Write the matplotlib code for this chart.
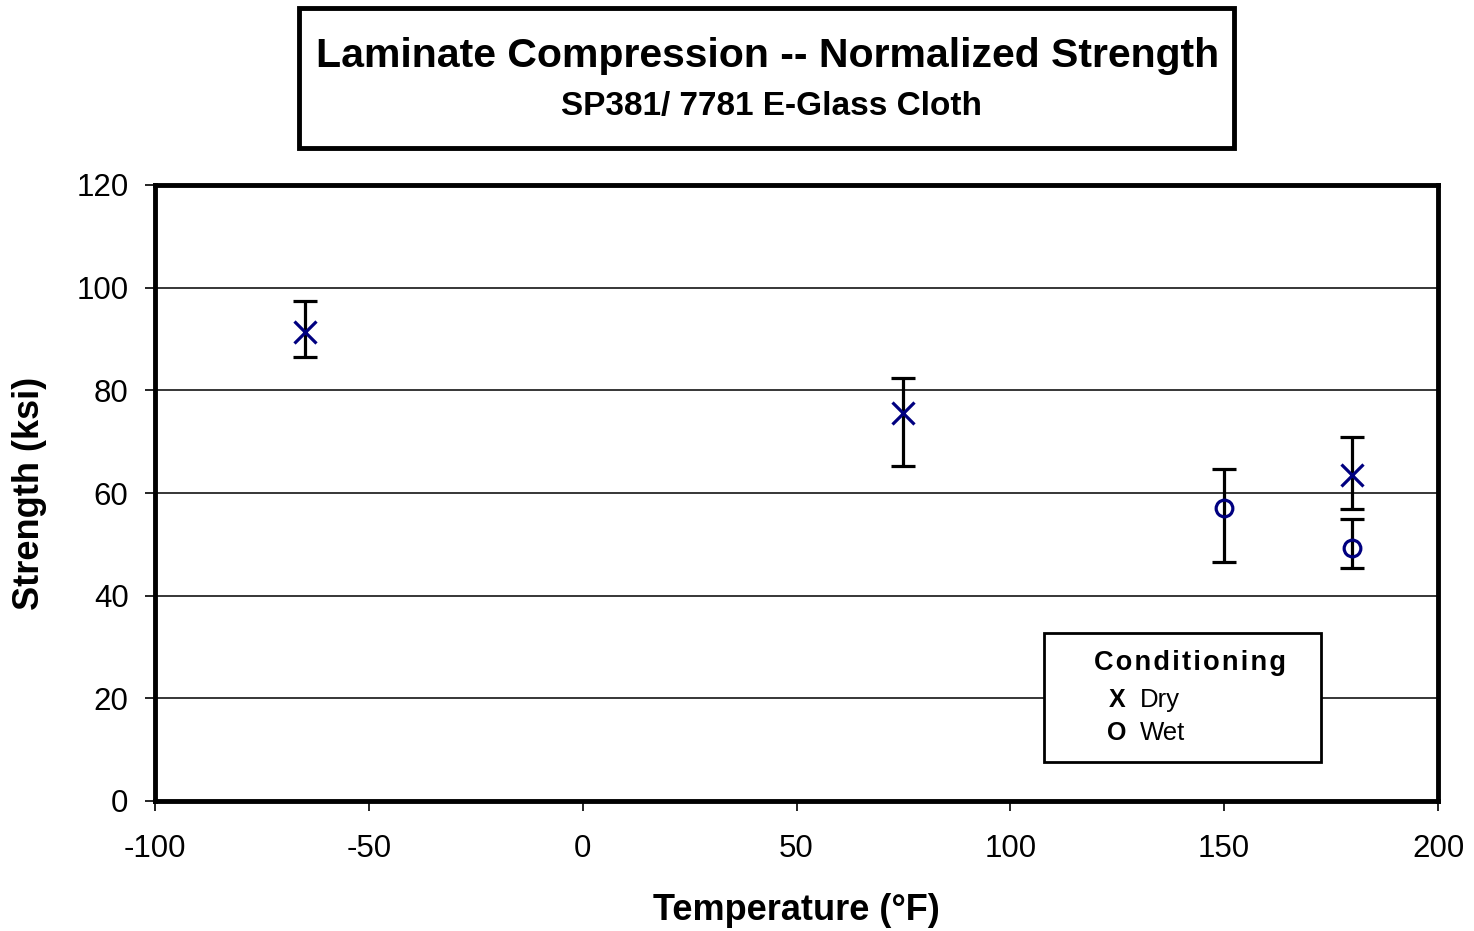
import matplotlib.pyplot as plt
from matplotlib.patches import Rectangle
import numpy as np

plt.rcParams['font.family'] = ['Liberation Sans', 'DejaVu Sans']
plt.rcParams['axes.unicode_minus'] = False

# data
dry_temp = [-65, 75, 180]
dry_str = [91.4, 75.6, 63.5]
dry_lo = [86.5, 65.3, 56.9]
dry_hi = [97.4, 82.4, 70.9]

wet_temp = [150, 180]
wet_str = [57.1, 49.3]
wet_lo = [46.6, 45.4]
wet_hi = [64.7, 54.9]

xticks = [-100, -50, 0, 50, 100, 150, 200]
yticks = [0, 20, 40, 60, 80, 100, 120]

fig = plt.figure(figsize=(14.74, 9.31), dpi=100)
ax = fig.add_axes([155/1474, 1-801/931, (1438-155)/1474, (801-185)/931])

ax.set_xlim(-100, 200)
ax.set_ylim(0, 120)
ax.set_xticks(xticks)
ax.set_yticks(yticks)
ax.yaxis.grid(True, color='black', linewidth=1.1)
ax.set_axisbelow(True)

def errs(v, lo, hi):
    v = np.array(v)
    return [v - np.array(lo), np.array(hi) - v]

ax.errorbar(dry_temp, dry_str, yerr=errs(dry_str, dry_lo, dry_hi), fmt='none',
            ecolor='black', elinewidth=2.3, capsize=8.5, capthick=2.3, zorder=3)
ax.errorbar(wet_temp, wet_str, yerr=errs(wet_str, wet_lo, wet_hi), fmt='none',
            ecolor='black', elinewidth=2.3, capsize=8.5, capthick=2.3, zorder=3)
ax.plot(dry_temp, dry_str, linestyle='none', marker='x', color='#000080',
        markersize=16, markeredgewidth=2.3, zorder=4)
ax.plot(wet_temp, wet_str, linestyle='none', marker='o', color='#000080',
        markerfacecolor='none', markersize=12, markeredgewidth=2.3, zorder=4)

for s in ax.spines.values():
    s.set_linewidth(3.5)
ax.tick_params(axis='both', labelsize=22.5, width=1.2, length=7, direction='out')
ax.tick_params(axis='y', pad=12)
ax.tick_params(axis='x', pad=17)

ax.set_xlabel('Temperature (°F)', fontsize=26, fontweight='bold')
ax.set_ylabel('Strength (ksi)', fontsize=26, fontweight='bold')
ax.xaxis.set_label_coords(0.5, (801-910)/616)
ax.yaxis.set_label_coords((30-155)/1283, 0.5)
ax.xaxis.label.set_va('center')
ax.yaxis.label.set_va('center')

# title box
fig.patches.append(Rectangle((299/1474, 1-148/931), (1234-299)/1474, (148-8)/931,
                             transform=fig.transFigure, facecolor='white',
                             edgecolor='black', linewidth=3.5))
fig.text(768/1474, 1-56/931, 'Laminate Compression -- Normalized Strength',
         ha='center', va='center', fontsize=29.5, fontweight='bold')
fig.text(772/1474, 1-106/931, 'SP381/ 7781 E-Glass Cloth',
         ha='center', va='center', fontsize=24, fontweight='bold')

# legend box
fig.patches.append(Rectangle((1044/1474, 1-762/931), (1321-1044)/1474, (762-633)/931,
                             transform=fig.transFigure, facecolor='white',
                             edgecolor='black', linewidth=2, zorder=5))
fig.text(1190/1474, 1-663/931, '\u200a'.join('Conditioning'), ha='center', va='center',
         fontsize=19.5, fontweight='bold', zorder=6)
fig.text(1117/1474, 1-700/931, 'X', ha='center', va='center',
         fontsize=18, fontweight='bold', zorder=6)
fig.text(1140/1474, 1-700/931, 'Dry', ha='left', va='center', fontsize=18.5, zorder=6)
fig.text(1117/1474, 1-733/931, 'O', ha='center', va='center',
         fontsize=18, fontweight='bold', zorder=6)
fig.text(1140/1474, 1-733/931, 'Wet', ha='left', va='center', fontsize=18.5, zorder=6)

fig.savefig('out.png', dpi=100)
